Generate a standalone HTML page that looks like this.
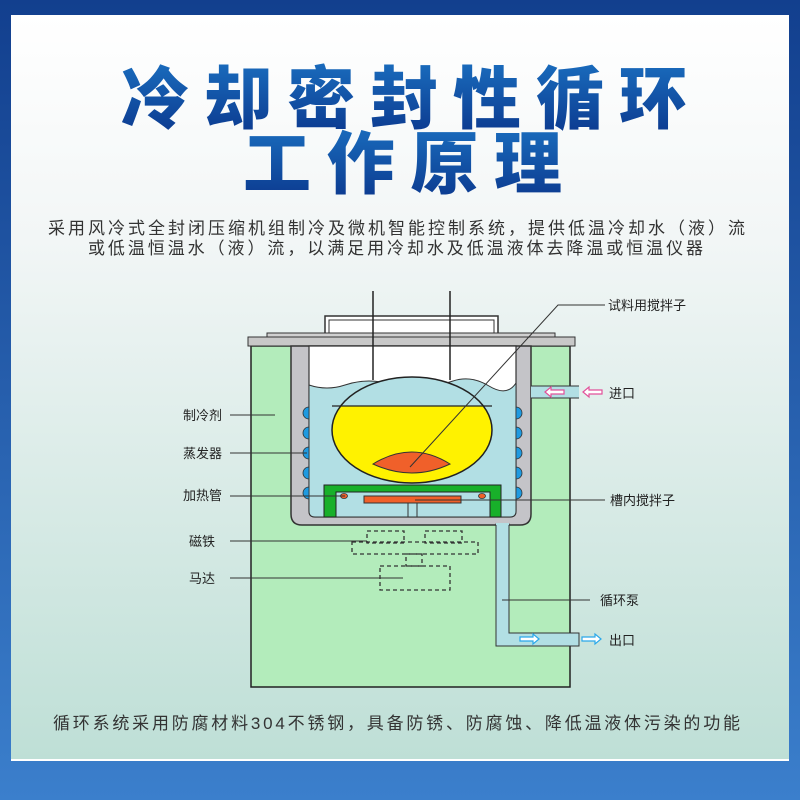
<!DOCTYPE html>
<html><head><meta charset="utf-8"><style>
html,body{margin:0;padding:0;width:800px;height:800px;overflow:hidden}
svg{display:block}
</style></head><body>
<svg width="800" height="800" viewBox="0 0 800 800" xmlns="http://www.w3.org/2000/svg" font-family="'Liberation Sans','Noto Sans CJK SC',sans-serif">
<defs>
<linearGradient id="bg" x1="0" y1="0" x2="0" y2="1"><stop offset="0" stop-color="#123f8e"/><stop offset="1" stop-color="#3b7fcc"/></linearGradient>
<linearGradient id="pn" x1="0" y1="0" x2="0" y2="1"><stop offset="0" stop-color="#ffffff"/><stop offset="0.3" stop-color="#f2f6f6"/><stop offset="1" stop-color="#bedfd6"/></linearGradient>
<linearGradient id="tt" x1="0" y1="0" x2="0" y2="1"><stop offset="0" stop-color="#1d78c8"/><stop offset="1" stop-color="#0a348a"/></linearGradient>
<clipPath id="fl"><ellipse cx="412" cy="430" rx="80" ry="53"/></clipPath>
</defs>
<rect width="800" height="800" fill="url(#bg)"/>
<rect x="11" y="15" width="778" height="746" fill="url(#pn)"/>
<rect x="11" y="759" width="778" height="2" fill="#ffffff"/>
<g fill="url(#tt)" font-weight="900" font-size="68" font-family="'Noto Sans CJK SC',sans-serif">
<text x="121" y="123" textLength="566" lengthAdjust="spacing">冷却密封性循环</text>
<text x="243" y="188" textLength="319" lengthAdjust="spacing">工作原理</text>
</g>
<g fill="#333" font-size="17">
<text x="48" y="234" textLength="697" lengthAdjust="spacing">采用风冷式全封闭压缩机组制冷及微机智能控制系统，提供低温冷却水（液）流</text>
<text x="88" y="254" textLength="615" lengthAdjust="spacing">或低温恒温水（液）流，以满足用冷却水及低温液体去降温或恒温仪器</text>
<text x="53" y="729" textLength="687" lengthAdjust="spacing">循环系统采用防腐材料304不锈钢，具备防锈、防腐蚀、降低温液体污染的功能</text>
</g>
<rect x="251" y="346" width="319" height="341" fill="#b3ecbb" stroke="#222" stroke-width="1.5"/>
<rect x="325" y="316" width="173" height="18" fill="#fff" stroke="#333" stroke-width="1.5"/>
<rect x="329" y="320" width="165" height="14" fill="#fff" stroke="#333" stroke-width="1"/>
<rect x="267" y="333" width="288" height="5" fill="#d0d0d0" stroke="#333" stroke-width="1"/>
<rect x="248" y="337" width="327" height="9" fill="#c8c8c8" stroke="#333" stroke-width="1"/>
<path d="M291 346 V514 Q291 525 302 525 H520 Q531 525 531 514 V346 Z" fill="#c4c4c8" stroke="#333" stroke-width="1.5"/>
<path d="M309 346 V511 Q309 517 315 517 H510 Q516 517 516 511 V346 Z" fill="#fff" stroke="#333" stroke-width="1.2"/>
<path d="M309 385 Q327 391 345 385 T381 382 T417 386 T453 381 T489 386 T516 383 V511 Q516 517 510 517 H315 Q309 517 309 511 Z" fill="#b2dfe4" stroke="#333" stroke-width="1"/>
<line x1="373" y1="291" x2="373" y2="380" stroke="#222" stroke-width="1.5"/>
<line x1="450" y1="291" x2="450" y2="380" stroke="#222" stroke-width="1.5"/>
<ellipse cx="412" cy="430" rx="80" ry="53" fill="#b2dfe4"/>
<rect x="330" y="406" width="165" height="80" fill="#fff200" clip-path="url(#fl)"/>
<line x1="332" y1="406" x2="492" y2="406" stroke="#222" stroke-width="1.2"/>
<ellipse cx="412" cy="430" rx="80" ry="53" fill="none" stroke="#222" stroke-width="1.5"/>
<path d="M373 464 Q412 440 450 464 Q412 482 373 464 Z" fill="#f0602a" stroke="#333" stroke-width="1"/>
<path d="M324 517 V485 H501 V517 H490 V492 H336 V517 Z" fill="#18b02a" stroke="#222" stroke-width="1"/>
<rect x="364" y="496" width="97" height="7" fill="#f0602a" stroke="#333" stroke-width="1"/>
<ellipse cx="344" cy="496" rx="3.5" ry="2.5" fill="#f0602a" stroke="#333" stroke-width="0.8"/>
<ellipse cx="482" cy="496" rx="3.5" ry="2.5" fill="#f0602a" stroke="#333" stroke-width="0.8"/>
<rect x="408" y="503" width="9" height="14" fill="#b2dfe4" stroke="#333" stroke-width="1"/>
<g fill="#1e9ae0" stroke="#333" stroke-width="0.8">
<path d="M309 407 A6 6 0 0 0 309 419 Z"/><path d="M309 427 A6 6 0 0 0 309 439 Z"/><path d="M309 447 A6 6 0 0 0 309 459 Z"/><path d="M309 467 A6 6 0 0 0 309 479 Z"/><path d="M309 487 A6 6 0 0 0 309 499 Z"/>
<path d="M516 407 A6 6 0 0 1 516 419 Z"/><path d="M516 427 A6 6 0 0 1 516 439 Z"/><path d="M516 447 A6 6 0 0 1 516 459 Z"/><path d="M516 467 A6 6 0 0 1 516 479 Z"/><path d="M516 487 A6 6 0 0 1 516 499 Z"/>
</g>
<rect x="531" y="386" width="48" height="12" fill="#b2dfe4"/>
<line x1="531" y1="386" x2="579" y2="386" stroke="#333"/><line x1="531" y1="398" x2="579" y2="398" stroke="#333"/>
<g fill="#fff" stroke="#e2509a" stroke-width="1.2">
<path d="M545 392 L551 387 V390 H564 V394 H551 V397 Z"/>
<path d="M583 392 L589 387 V390 H602 V394 H589 V397 Z"/>
</g>
<path d="M496 524 V646 H579 V633 H509 V524 Z" fill="#b2dfe4" stroke="#333" stroke-width="1"/>
<line x1="496" y1="524" x2="509" y2="524" stroke="#b2dfe4" stroke-width="2"/>
<g fill="#fff" stroke="#2aa8ea" stroke-width="1.2">
<path d="M539 639 L533 634 V637 H520 V641 H533 V644 Z"/>
<path d="M601 639 L595 634 V637 H582 V641 H595 V644 Z"/>
</g>
<g fill="none" stroke="#333" stroke-width="1.3" stroke-dasharray="4,3">
<rect x="367" y="531" width="37" height="12"/><rect x="425" y="531" width="37" height="12"/>
<rect x="352" y="542" width="126" height="12"/>
<rect x="406" y="554" width="16" height="12"/>
<rect x="380" y="566" width="70" height="24"/>
</g>
<g stroke="#333" stroke-width="1">
<line x1="230" y1="415" x2="275" y2="415"/>
<line x1="230" y1="453" x2="307" y2="453"/>
<line x1="230" y1="496" x2="345" y2="496"/>
<line x1="230" y1="541" x2="367" y2="541"/>
<line x1="230" y1="578" x2="403" y2="578"/>
<polyline points="605,305 558,305 410,467" fill="none"/>
<line x1="415" y1="500" x2="605" y2="500"/>
<line x1="502" y1="600" x2="590" y2="600"/>
</g>
<g fill="#222" font-size="13">
<text x="222" y="420" text-anchor="end">制冷剂</text>
<text x="222" y="458" text-anchor="end">蒸发器</text>
<text x="222" y="500" text-anchor="end">加热管</text>
<text x="215" y="546" text-anchor="end">磁铁</text>
<text x="215" y="583" text-anchor="end">马达</text>
<text x="608" y="310">试料用搅拌子</text>
<text x="609" y="398">进口</text>
<text x="610" y="505">槽内搅拌子</text>
<text x="600" y="605">循环泵</text>
<text x="609" y="645">出口</text>
</g>
</svg>
</body></html>
